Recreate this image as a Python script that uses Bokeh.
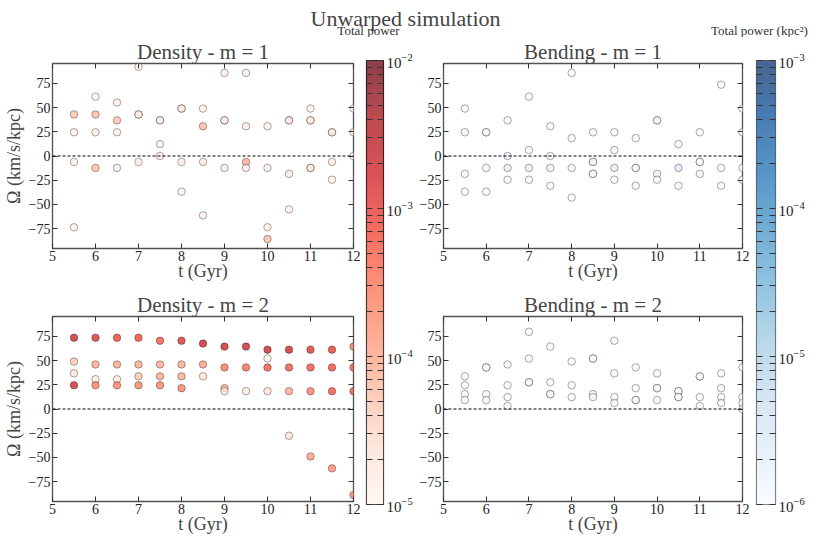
import numpy as np
from bokeh.plotting import figure
from bokeh.layouts import row, column
from bokeh.models import (Range1d, LinearAxis, LogAxis, FixedTicker, LogColorMapper,
                          LinearColorMapper, Span, Label, ColumnDataSource, CustomJSTickFormatter,
                          CustomLabelingPolicy)
from bokeh.palettes import Reds256, Blues256
from bokeh.embed import file_html
from bokeh.resources import INLINE

FONT = "Liberation Serif"

# ---------------- data ----------------
x_ticks = [5, 6, 7, 8, 9, 10, 11, 12]
y_ticks = [-75, -50, -25, 0, 25, 50, 75]

# Density m=1 : time (Gyr), pattern speed (km/s/kpc), total power
dens1_t = [5.5, 5.5, 5.5, 5.5, 6.0, 6.0, 6.0, 6.0, 6.5, 6.5, 6.5, 6.5,
           7.0, 7.0, 7.0, 7.0, 7.5, 7.5, 7.5, 7.5, 8.0, 8.0, 8.0, 8.0,
           8.5, 8.5, 8.5, 8.5, 9.0, 9.0, 9.0, 9.0, 9.5, 9.5, 9.5, 9.5,
           10.0, 10.0, 10.0, 10.0, 10.5, 10.5, 10.5, 10.5,
           11.0, 11.0, 11.0, 11.0, 11.0, 11.5, 11.5, 11.5, 11.5, 12.0, 12.0, 12.0]
dens1_omega = [42.9, 24.5, -6.1, -73.6, 61.3, 42.9, 24.5, -12.3, 55.2, 36.8, 24.5, -12.3,
               92.0, 42.9, 42.9, -6.1, 36.8, 36.8, 12.3, 0.0, 49.0, 49.0, -6.1, -36.8,
               49.0, 30.7, -6.1, -61.3, 85.8, 36.8, 36.8, -12.3, 85.8, 30.7, -6.1, -12.3,
               30.7, -12.3, -73.6, -85.8, 36.8, 36.8, -18.4, -55.2,
               49.0, 36.8, 36.8, -12.3, -12.3, 24.5, 24.5, -6.1, -24.5, 49.0, 24.5, 0.0]
dens1_power = [5.5e-5, 1.5e-5, 1.4e-5, 1.3e-5, 1.3e-5, 6.5e-5, 1.5e-5, 6e-5, 1.4e-5, 5.5e-5, 1.4e-5, 1.6e-5,
               1.3e-5, 1.6e-5, 1.6e-5, 1.4e-5, 1.5e-5, 1.5e-5, 1.4e-5, 1.5e-5, 1.6e-5, 1.6e-5, 1.4e-5, 1.3e-5,
               1.4e-5, 7e-5, 1.7e-5, 1.3e-5, 1.5e-5, 1.6e-5, 1.6e-5, 1.7e-5, 1.4e-5, 1.4e-5, 9e-5, 1.6e-5,
               1.4e-5, 1.5e-5, 1.3e-5, 6e-5, 1.6e-5, 1.6e-5, 1.5e-5, 1.3e-5,
               1.4e-5, 1.6e-5, 1.6e-5, 1.8e-5, 1.8e-5, 2e-5, 2e-5, 1.6e-5, 1.4e-5, 1.5e-5, 1.6e-5, 1.4e-5]

# Bending m=1
bend1_t = [5.5, 5.5, 5.5, 5.5, 6.0, 6.0, 6.0, 6.0, 6.5, 6.5, 6.5, 6.5,
           7.0, 7.0, 7.0, 7.0, 7.5, 7.5, 7.5, 7.5, 8.0, 8.0, 8.0, 8.0,
           8.5, 8.5, 8.5, 8.5, 8.5, 9.0, 9.0, 9.0, 9.0, 9.5, 9.5, 9.5, 9.5,
           10.0, 10.0, 10.0, 10.0, 10.5, 10.5, 10.5,
           11.0, 11.0, 11.0, 11.0, 11.5, 11.5, 11.5, 12.0, 12.0, 12.0, 12.0]
bend1_omega = [49.0, 24.5, -18.4, -36.8, 24.5, 24.5, -12.3, -36.8, 36.8, 0.0, -12.3, -24.5,
               61.3, 6.1, -12.3, -24.5, 30.7, 0.0, -12.3, -30.7, 85.8, 18.4, -12.3, -42.9,
               24.5, -6.1, -6.1, -18.4, -18.4, 24.5, 6.1, -12.3, -24.5, 18.4, -12.3, -12.3, -30.7,
               36.8, 36.8, -18.4, -24.5, 12.3, -12.3, -30.7,
               24.5, -6.1, -6.1, -18.4, 73.6, -12.3, -30.7, 49.0, 24.5, -12.3, -24.5]
bend1_power = [1.1e-6, 1.1e-6, 1.1e-6, 1.1e-6, 1.1e-6, 1.1e-6, 1.2e-6, 1.1e-6, 1.1e-6, 1.4e-6, 2.3e-6, 1.1e-6,
               1.1e-6, 1.2e-6, 2.3e-6, 1.1e-6, 1.1e-6, 1.2e-6, 1.9e-6, 1.1e-6, 1.1e-6, 1.1e-6, 1.2e-6, 1.1e-6,
               1.1e-6, 1.1e-6, 1.1e-6, 1.1e-6, 1.1e-6, 1.1e-6, 1.2e-6, 2.2e-6, 1.1e-6, 1.1e-6, 1.1e-6, 1.1e-6, 1.1e-6,
               1.1e-6, 1.1e-6, 1.3e-6, 1.2e-6, 1.1e-6, 2.8e-6, 1.1e-6,
               1.1e-6, 1.1e-6, 1.1e-6, 1.2e-6, 1.1e-6, 1.1e-6, 1.1e-6, 1.1e-6, 1.1e-6, 1.2e-6, 1.1e-6]

# Density m=2
dens2_t = [5.5, 5.5, 5.5, 5.5, 6.0, 6.0, 6.0, 6.0, 6.5, 6.5, 6.5, 6.5,
           7.0, 7.0, 7.0, 7.0, 7.5, 7.5, 7.5, 7.5, 8.0, 8.0, 8.0, 8.0,
           8.5, 8.5, 8.5, 9.0, 9.0, 9.0, 9.0, 9.5, 9.5, 9.5,
           10.0, 10.0, 10.0, 10.0, 10.5, 10.5, 10.5, 10.5,
           11.0, 11.0, 11.0, 11.0, 11.5, 11.5, 11.5, 11.5, 12.0, 12.0, 12.0, 12.0]
dens2_omega = [73.6, 49.0, 36.8, 24.5, 73.6, 46.0, 30.7, 24.5, 73.6, 46.0, 30.7, 24.5,
               73.6, 46.0, 33.7, 24.5, 70.5, 46.0, 33.7, 24.5, 70.5, 46.0, 33.7, 21.5,
               67.5, 46.0, 33.7, 64.4, 42.9, 21.5, 18.4, 64.4, 42.9, 18.4,
               61.3, 52.1, 42.9, 18.4, 61.3, 42.9, 18.4, -27.6,
               61.3, 42.9, 18.4, -49.0, 61.3, 42.9, 18.4, -61.3, 64.4, 42.9, 18.4, -88.9]
dens2_power = [2e-3, 5e-5, 2.5e-5, 1.8e-3, 1.3e-3, 1e-4, 1.8e-5, 2.5e-4, 9e-4, 1e-4, 1.8e-5, 2.5e-4,
               8e-4, 1e-4, 5e-5, 2.5e-4, 6e-4, 1e-4, 1e-4, 2.5e-4, 1.3e-3, 1e-4, 1e-4, 2.5e-4,
               2e-3, 1.2e-4, 2.5e-5, 2e-3, 3e-4, 1e-4, 1.5e-5, 2e-3, 4e-4, 1.5e-5,
               2e-3, 1.1e-5, 6e-4, 2.5e-5, 1.8e-3, 6e-4, 1e-4, 2.5e-5,
               1.2e-3, 6e-4, 2.5e-4, 1.2e-4, 1e-3, 7e-4, 6e-4, 2e-4, 3e-4, 6e-4, 6e-4, 2e-4]

# Bending m=2
bend2_t = [5.5, 5.5, 5.5, 5.5, 6.0, 6.0, 6.0, 6.0, 6.5, 6.5, 6.5, 6.5,
           7.0, 7.0, 7.0, 7.0, 7.5, 7.5, 7.5, 7.5, 8.0, 8.0, 8.0,
           8.5, 8.5, 8.5, 8.5, 9.0, 9.0, 9.0, 9.0, 9.5, 9.5, 9.5, 9.5,
           10.0, 10.0, 10.0, 10.0, 10.5, 10.5, 10.5, 10.5,
           11.0, 11.0, 11.0, 11.0, 11.5, 11.5, 11.5, 11.5, 12.0, 12.0, 12.0, 12.0]
bend2_omega = [33.7, 24.5, 15.3, 9.2, 42.9, 42.9, 15.3, 9.2, 46.0, 24.5, 12.3, 3.1,
               79.7, 52.1, 27.6, 27.6, 64.4, 27.6, 15.3, 15.3, 49.0, 24.5, 12.3,
               52.1, 52.1, 15.3, 12.3, 70.5, 36.8, 12.3, 6.1, 42.9, 21.5, 9.2, 9.2,
               36.8, 21.5, 21.5, 9.2, 18.4, 18.4, 12.3, 12.3,
               33.7, 33.7, 12.3, 3.1, 36.8, 21.5, 12.3, 6.1, 42.9, 12.3, 6.1, 0.0]
bend2_power = [1.1e-6] * len(bend2_t)

# ---------------- style helpers ----------------
RED_PAL = list(Reds256)
BLUE_PAL = list(Blues256)
if RED_PAL[0].lower() < RED_PAL[-1].lower():
    RED_PAL = RED_PAL[::-1]
    BLUE_PAL = BLUE_PAL[::-1]

minus_fmt = "return tick < 0 ? '\u2212' + Math.abs(tick) : tick.toString();"


def hide_labels(ax):
    ax.formatter = CustomJSTickFormatter(code="return '';")
    ax.major_label_policy = CustomLabelingPolicy(code="for (const i of indices) { indices.unset(i) }")
    ax.major_label_text_font_size = "1px"
    ax.major_label_standoff = 0


def style_ticks(ax, ticks, show_labels):
    ax.ticker = FixedTicker(ticks=ticks)
    ax.major_tick_in = 5
    ax.major_tick_out = 0
    ax.major_tick_line_color = "#333333"
    ax.minor_tick_line_color = None
    ax.axis_line_color = None
    ax.major_label_text_font = FONT
    ax.major_label_text_color = "#222222"
    if show_labels:
        ax.major_label_text_font_size = "14px"
        ax.major_label_standoff = 2
        ax.formatter = CustomJSTickFormatter(code=minus_fmt)
    else:
        hide_labels(ax)


def panel(title, t, om, pw, mapper, width, height, mbl, mbr, mbt, mbb, ylabel):
    p = figure(width=width, height=height, x_range=Range1d(5, 12), y_range=Range1d(-95.5, 95.5),
               output_backend="svg", toolbar_location=None,
               min_border_left=mbl, min_border_right=mbr, min_border_top=mbt, min_border_bottom=mbb)
    p.grid.visible = False
    p.outline_line_color = "#505050"
    p.outline_line_width = 1.3
    p.title.text = title
    p.title.align = "center"
    p.title.text_font = FONT
    p.title.text_font_size = "21px"
    p.title.text_font_style = "normal"
    p.title.standoff = 0
    style_ticks(p.xaxis[0], x_ticks, True)
    style_ticks(p.yaxis[0], y_ticks, True)
    p.xaxis[0].axis_label = "t (Gyr)"
    p.xaxis[0].axis_label_text_font = FONT
    p.xaxis[0].axis_label_text_font_size = "18px"
    p.xaxis[0].axis_label_text_font_style = "normal"
    p.xaxis[0].axis_label_standoff = -3
    if ylabel:
        p.yaxis[0].axis_label = ylabel
        p.yaxis[0].axis_label_text_font = FONT
        p.yaxis[0].axis_label_text_font_size = "18px"
        p.yaxis[0].axis_label_text_font_style = "normal"
        p.yaxis[0].axis_label_standoff = 2
    top = LinearAxis()
    style_ticks(top, x_ticks, False)
    p.add_layout(top, "above")
    right = LinearAxis()
    style_ticks(right, y_ticks, False)
    p.add_layout(right, "right")
    p.add_layout(Span(location=0, dimension="width", line_color="black",
                      line_dash="3 2", line_width=1))
    src = ColumnDataSource(dict(t=t, omega=om, power=pw))
    p.scatter(x="t", y="omega", source=src, size=7.5,
              fill_color={"field": "power", "transform": mapper}, fill_alpha=0.75,
              line_color="black", line_alpha=0.42, line_width=0.8)
    return p


def cbar(pal, low, high, width, height, mbl, mbr, mbt, mbb, outline):
    p = figure(width=width, height=height, x_range=Range1d(0, 1), y_range=Range1d(low, high),
               y_axis_type="log", output_backend="svg", toolbar_location=None,
               x_axis_location=None, y_axis_location="right",
               min_border_left=mbl, min_border_right=mbr, min_border_top=mbt, min_border_bottom=mbb)
    p.grid.visible = False
    p.outline_line_color = outline
    p.outline_line_width = 1.2
    lo, hi = np.log10(low), np.log10(high)
    cmap = LinearColorMapper(palette=pal, low=lo, high=hi)
    grad = np.linspace(lo, hi, 256).reshape(256, 1)
    p.image(image=[grad], x=0, y=low, dw=1, dh=high - low, color_mapper=cmap, global_alpha=0.75)
    decades = [10.0 ** k for k in range(int(round(lo)), int(round(hi)) + 1)]
    minors = [m * d for d in decades[:-1] for m in range(2, 10)]
    axes = [p.yaxis[0]]
    left = LogAxis()
    p.add_layout(left, "left")
    axes.append(left)
    for i, ax in enumerate(axes):
        ax.ticker = FixedTicker(ticks=decades, minor_ticks=minors)
        ax.major_tick_in = 6
        ax.major_tick_out = 0
        ax.minor_tick_in = 6
        ax.minor_tick_out = 0
        ax.major_tick_line_color = "#333333"
        ax.minor_tick_line_color = "#333333"
        ax.axis_line_color = None
        ax.major_label_text_font = FONT
        ax.major_label_text_color = "#222222"
        if i == 0:
            ax.major_label_text_font_size = "15px"
            ax.major_label_standoff = 3
        else:
            hide_labels(ax)
    return p


red_map = LogColorMapper(palette=RED_PAL, low=1e-5, high=1e-2)
blue_map = LogColorMapper(palette=BLUE_PAL, low=1e-6, high=1e-3)

YLAB = "\u03a9 (km/s/kpc)"

p_tl = panel("Density - m = 1", dens1_t, dens1_omega, dens1_power, red_map, 360, 246, 46, 7, 25, 34, YLAB)
p_bl = panel("Density - m = 2", dens2_t, dens2_omega, dens2_power, red_map, 360, 253, 46, 7, 33, 34, YLAB)
p_tr = panel("Bending - m = 1", bend1_t, bend1_omega, bend1_power, blue_map, 334, 246, 28, 7, 25, 34, None)
p_br = panel("Bending - m = 2", bend2_t, bend2_omega, bend2_power, blue_map, 334, 253, 28, 7, 33, 34, None)

cb_red = cbar(RED_PAL, 1e-5, 1e-2, 55, 499, 6, 31, 23, 32, "#222222")
cb_blue = cbar(BLUE_PAL, 1e-6, 1e-3, 64, 499, 7, 38, 23, 32, "#666666")

strip = figure(width=813, height=37, x_range=Range1d(0, 813), y_range=Range1d(0, 37),
               output_backend="svg", toolbar_location=None, min_border=0,
               x_axis_location=None, y_axis_location=None)
strip.grid.visible = False
strip.outline_line_color = None
strip.add_layout(Label(x=405, y=19, text="Unwarped simulation", text_align="center",
                       text_baseline="alphabetic", text_font=FONT, text_font_size="22px"))
strip.add_layout(Label(x=368, y=7, text="Total power", text_align="center",
                       text_baseline="alphabetic", text_font=FONT, text_font_size="13px",
                       text_color="#333333"))
strip.add_layout(Label(x=759, y=7, text="Total power (kpc\u00b2)", text_align="center",
                       text_baseline="alphabetic", text_font=FONT, text_font_size="13px",
                       text_color="#333333"))

layout = column(strip,
                row(column(p_tl, p_bl, spacing=0), cb_red, column(p_tr, p_br, spacing=0), cb_blue, spacing=0),
                spacing=0)

with open("out.html", "w", encoding="utf-8") as f:
    f.write(file_html(layout, INLINE, title="Unwarped simulation"))
